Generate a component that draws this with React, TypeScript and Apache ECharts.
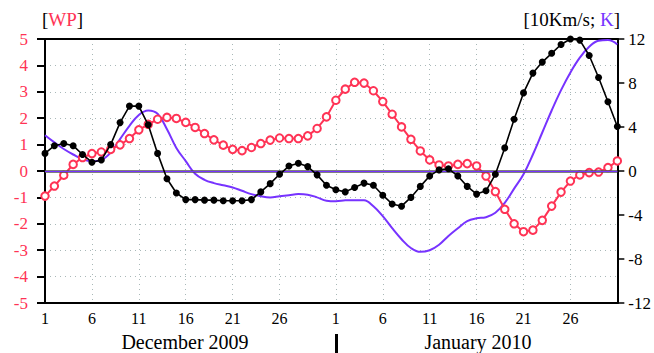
import React, { useEffect, useRef } from "react";
import * as echarts from "echarts";

const decDays = ["1","2","3","4","5","6","7","8","9","10","11","12","13","14","15","16","17","18","19","20","21","22","23","24","25","26","27","28","29","30","31"];
const janDays = ["1","2","3","4","5","6","7","8","9","10","11","12","13","14","15","16","17","18","19","20","21","22","23","24","25","26","27","28","29","30","31"];
const shownDays = ["1", "6", "11", "16", "21", "26"];

// WP index (left axis)
const wpValues = [
  -0.95, -0.57, -0.16, 0.25, 0.51, 0.66, 0.72, 0.82, 0.99, 1.23, 1.56, 1.77, 1.96, 2.03, 1.99, 1.84,
  1.65, 1.42, 1.18, 0.98, 0.82, 0.77, 0.89, 1.04, 1.17, 1.25, 1.23, 1.23, 1.33, 1.61, 2.05, 2.68,
  3.1, 3.36, 3.33, 3.04, 2.63, 2.15, 1.67, 1.2, 0.76, 0.42, 0.23, 0.19, 0.25, 0.28, 0.19,
  -0.19, -0.78, -1.45, -2.0, -2.3, -2.24, -1.87, -1.33, -0.8, -0.38, -0.15, -0.06, -0.04, 0.13, 0.38,
];

// wind (10 km/s, right axis)
const windValues = [
  1.6, 2.3, 2.5, 2.3, 1.5, 0.8, 1.0, 2.4, 4.4, 5.9, 5.9, 4.2, 1.6, -0.7, -2.0, -2.6,
  -2.6, -2.65, -2.65, -2.7, -2.7, -2.7, -2.6, -1.9, -1.15, -0.3, 0.45, 0.7, 0.4, -0.35, -1.3, -1.7,
  -1.9, -1.5, -1.1, -1.3, -2.2, -3.0, -3.2, -2.4, -1.4, -0.45, 0.1, 0.2, -0.45, -1.4, -2.1,
  -1.8, -0.3, 2.1, 4.7, 7.1, 8.9, 9.9, 10.7, 11.5, 12.0, 11.9, 10.5, 8.5, 6.3, 4.05,
];

// temperature (K, right axis)
const kValues = [
  3.25, 2.6, 2.0, 1.5, 1.07, 0.88, 1.0, 1.68, 2.9, 4.1, 5.1, 5.5, 5.2, 3.8, 2.1, 0.9,
  -0.25, -0.8, -1.1, -1.3, -1.5, -1.8, -2.1, -2.3, -2.4, -2.3, -2.2, -2.1, -2.15, -2.4, -2.7, -2.75,
  -2.67, -2.65, -2.67, -3.2, -4.1, -5.2, -6.2, -7.0, -7.35, -7.2, -6.7, -5.9, -5.2, -4.55, -4.3,
  -4.2, -3.8, -2.9, -1.6, -0.3, 1.5, 3.5, 5.5, 7.35, 8.96, 10.3, 11.3, 11.85, 11.9, 11.5,
];

const monthLabels = ["December 2009", "January 2010"];

const RED = "#ff3355";
const PURPLE = "#7733ff";
const FONT = "'Liberation Serif', 'Times New Roman', serif";

export default function App() {
  const ref = useRef<HTMLDivElement>(null);
  useEffect(() => {
    document.body.style.margin = "0";
    if (!ref.current) return;
    const chart = echarts.init(ref.current, undefined, { renderer: "svg" });
    const categories = [...decDays.map((d) => "Dec-" + d), ...janDays.map((d) => "Jan-" + d)];
    const showIdx = (i: number) => shownDays.includes(categories[i].split("-")[1]);
    chart.setOption({
      animation: false,
      backgroundColor: "#ffffff",
      textStyle: { fontFamily: FONT },
      grid: { left: 45, right: 34, top: 39, bottom: 50, show: false },
      xAxis: [
        {
          type: "category",
          data: categories,
          boundaryGap: false,
          position: "bottom",
          axisLine: { show: true, onZero: false, lineStyle: { color: "#000", width: 2 } },
          axisTick: { show: false },
          axisLabel: {
            interval: (i: number) => showIdx(i),
            formatter: (v: string) => v.split("-")[1],
            color: "#000",
            fontFamily: FONT,
            fontSize: 16,
            margin: 7,
          },
          splitLine: {
            show: true,
            interval: (i: number) => showIdx(i) && i !== 0,
            lineStyle: { color: "#a9b8b8", type: [1, 4], width: 1 },
          },
        },
        {
          type: "category",
          data: categories,
          boundaryGap: false,
          position: "top",
          axisLine: { show: true, onZero: false, lineStyle: { color: "#000", width: 2 } },
          axisTick: { show: false },
          axisLabel: { show: false },
          splitLine: { show: false },
        },
      ],
      yAxis: [
        {
          type: "value",
          min: -5,
          max: 5,
          interval: 1,
          position: "left",
          axisLine: { show: true, onZero: false, lineStyle: { color: "#000", width: 2 } },
          axisTick: { show: true, length: 8, lineStyle: { color: "#000", width: 2 } },
          axisLabel: { color: RED, fontFamily: FONT, fontSize: 17, margin: 17 },
          splitLine: { show: true, lineStyle: { color: "#a9b8b8", type: [1, 4], width: 1 } },
        },
        {
          type: "value",
          min: -12,
          max: 12,
          interval: 4,
          position: "right",
          axisLine: { show: true, onZero: false, lineStyle: { color: "#000", width: 2 } },
          axisTick: { show: true, length: 7, lineStyle: { color: "#000", width: 1.5 } },
          axisLabel: { color: "#000", fontFamily: FONT, fontSize: 17, margin: 11 },
          splitLine: { show: false },
        },
      ],
      series: [
        {
          name: "K",
          type: "line",
          yAxisIndex: 1,
          data: kValues,
          smooth: 0.4,
          showSymbol: false,
          symbol: "none",
          lineStyle: { color: PURPLE, width: 2 },
          z: 2,
          markLine: {
            silent: true,
            symbol: "none",
            label: { show: false },
            data: [{ yAxis: 0 }],
            lineStyle: { color: "#555", width: 2.5, type: "solid" },
          },
        },
        {
          name: "K0",
          type: "line",
          yAxisIndex: 1,
          data: [],
          markLine: {
            silent: true,
            symbol: "none",
            label: { show: false },
            data: [{ yAxis: 0 }],
            lineStyle: { color: PURPLE, width: 1, type: "solid" },
          },
          z: 3,
        },
        {
          name: "WP",
          type: "line",
          yAxisIndex: 0,
          data: wpValues,
          symbol: "circle",
          symbolSize: 7.5,
          showAllSymbol: true,
          lineStyle: { color: RED, width: 2 },
          itemStyle: { color: "#fff", borderColor: RED, borderWidth: 2 },
          z: 4,
        },
        {
          name: "Wind",
          type: "line",
          yAxisIndex: 1,
          data: windValues,
          symbol: "circle",
          symbolSize: 7,
          showAllSymbol: true,
          lineStyle: { color: "#000", width: 1.6 },
          itemStyle: { color: "#000" },
          z: 5,
        },
      ],
      graphic: [
        {
          type: "text",
          left: 42,
          top: 10,
          style: {
            text: "{b|[}{r|WP}{b|]}",
            rich: {
              b: { fill: "#000", fontFamily: FONT, fontSize: 19 },
              r: { fill: RED, fontFamily: FONT, fontSize: 19 },
            },
          },
        },
        {
          type: "text",
          right: 34,
          top: 10,
          style: {
            text: "{b|[10Km/s; }{p|K}{b|]}",
            rich: {
              b: { fill: "#000", fontFamily: FONT, fontSize: 19 },
              p: { fill: PURPLE, fontFamily: FONT, fontSize: 19 },
            },
          },
        },
        {
          type: "text",
          x: 185,
          y: 342,
          style: { text: monthLabels[0], fill: "#000", fontFamily: FONT, fontSize: 20, align: "center", verticalAlign: "middle" },
        },
        {
          type: "text",
          x: 478,
          y: 342,
          style: { text: monthLabels[1], fill: "#000", fontFamily: FONT, fontSize: 20, align: "center", verticalAlign: "middle" },
        },
        {
          type: "rect",
          shape: { x: 335, y: 334, width: 3, height: 19 },
          style: { fill: "#000" },
        },
      ],
    });
    return () => chart.dispose();
  }, []);
  return <div ref={ref} style={{ width: 654, height: 353 }} />;
}
